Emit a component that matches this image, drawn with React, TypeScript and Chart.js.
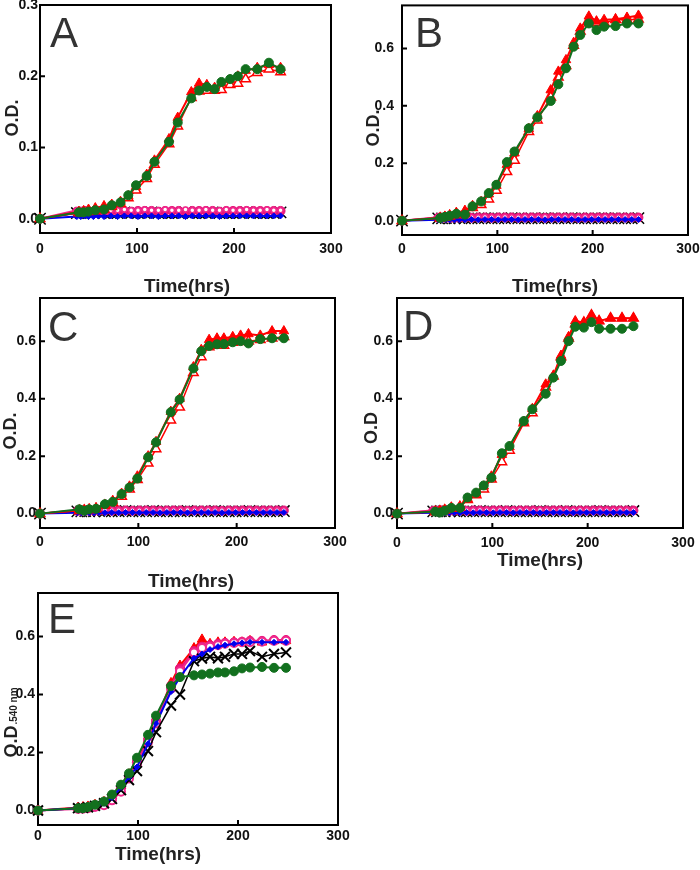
import React, { useEffect, useRef } from "react";
import { Chart, registerables } from "chart.js";

Chart.register(...registerables);

// ---------------- DATA ----------------
const times = [0, 40, 45, 50, 57, 66, 74, 83, 91, 99, 110, 118, 133, 142, 156, 164, 172, 180, 187, 196, 204, 212, 224, 236, 248];
const flatTimes = [0, 38, 42, 46, 50, 55, 60, 66, 73, 80, 87, 94, 101, 108, 115, 122, 129, 136, 143, 150, 157, 164, 171, 178, 185, 192, 199, 206, 213, 220, 227, 234, 241, 248];

const xTickValues = [0, 100, 200, 300];
const yTicksA = [0, 0.1, 0.2, 0.3];
const yTicksOther = [0, 0.2, 0.4, 0.6];

// controls (flat) shared by panels A-D
const flatCross = [0, 0.008, 0.008, 0.009, 0.008, 0.008, 0.009, 0.008, 0.008, 0.008, 0.009, 0.008, 0.008, 0.008, 0.009, 0.008, 0.008, 0.008, 0.008, 0.009, 0.008, 0.008, 0.008, 0.009, 0.008, 0.008, 0.008, 0.008, 0.009, 0.008, 0.008, 0.008, 0.008, 0.009];
const flatPink = [0, 0.010, 0.010, 0.011, 0.010, 0.010, 0.011, 0.011, 0.010, 0.011, 0.011, 0.010, 0.011, 0.011, 0.011, 0.010, 0.011, 0.011, 0.011, 0.010, 0.011, 0.011, 0.011, 0.011, 0.010, 0.011, 0.011, 0.011, 0.011, 0.011, 0.011, 0.011, 0.011, 0.011];
const flatMagenta = [0, 0.012, 0.012, 0.012, 0.013, 0.012, 0.012, 0.013, 0.012, 0.012, 0.013, 0.012, 0.012, 0.013, 0.012, 0.012, 0.013, 0.012, 0.012, 0.013, 0.012, 0.012, 0.013, 0.012, 0.012, 0.013, 0.012, 0.012, 0.013, 0.012, 0.012, 0.013, 0.012, 0.012];
const flatBlue = [0, 0.003, 0.003, 0.004, 0.003, 0.003, 0.004, 0.003, 0.004, 0.003, 0.004, 0.004, 0.003, 0.004, 0.004, 0.003, 0.004, 0.004, 0.004, 0.003, 0.004, 0.004, 0.004, 0.004, 0.003, 0.004, 0.004, 0.004, 0.004, 0.004, 0.004, 0.004, 0.004, 0.004];

// Panel A
const aGreen = [0, 0.009, 0.009, 0.010, 0.012, 0.013, 0.019, 0.023, 0.033, 0.047, 0.060, 0.080, 0.108, 0.135, 0.169, 0.180, 0.185, 0.182, 0.192, 0.196, 0.200, 0.210, 0.210, 0.219, 0.210];
const aRedFilled = [0, 0.010, 0.011, 0.013, 0.015, 0.018, 0.020, 0.024, 0.032, 0.045, 0.062, 0.082, 0.112, 0.142, 0.178, 0.190, 0.188, 0.184, 0.190, 0.195, 0.200, 0.208, 0.212, 0.216, 0.212];
const aRedOpen = [0, 0.008, 0.009, 0.010, 0.011, 0.013, 0.017, 0.021, 0.029, 0.040, 0.056, 0.076, 0.105, 0.130, 0.170, 0.179, 0.180, 0.180, 0.181, 0.188, 0.190, 0.196, 0.205, 0.210, 0.206];

// Panel B
const bGreen = [0, 0.009, 0.013, 0.017, 0.024, 0.021, 0.050, 0.067, 0.096, 0.125, 0.204, 0.241, 0.322, 0.360, 0.417, 0.475, 0.531, 0.606, 0.647, 0.687, 0.664, 0.676, 0.678, 0.687, 0.687];
const bRedFilled = [0, 0.010, 0.014, 0.020, 0.028, 0.035, 0.052, 0.066, 0.092, 0.122, 0.195, 0.235, 0.320, 0.365, 0.455, 0.520, 0.560, 0.620, 0.670, 0.712, 0.695, 0.700, 0.702, 0.708, 0.715];
const bRedOpen = [0, 0.008, 0.011, 0.015, 0.020, 0.025, 0.045, 0.055, 0.075, 0.105, 0.170, 0.210, 0.310, 0.350, 0.430, 0.500, 0.540, 0.610, 0.660, 0.700, 0.690, 0.690, 0.700, 0.700, 0.702];

// Panel C
const cGreen = [0, 0.015, 0.010, 0.015, 0.017, 0.033, 0.041, 0.068, 0.091, 0.122, 0.196, 0.248, 0.353, 0.397, 0.505, 0.565, 0.583, 0.589, 0.590, 0.596, 0.600, 0.592, 0.607, 0.610, 0.610];
const cRedFilled = [0, 0.012, 0.013, 0.016, 0.020, 0.030, 0.045, 0.070, 0.095, 0.130, 0.200, 0.250, 0.355, 0.400, 0.510, 0.570, 0.605, 0.610, 0.610, 0.615, 0.620, 0.625, 0.620, 0.635, 0.635];
const cRedOpen = [0, 0.010, 0.011, 0.013, 0.016, 0.028, 0.038, 0.060, 0.085, 0.118, 0.175, 0.225, 0.325, 0.370, 0.490, 0.545, 0.580, 0.585, 0.585, 0.595, 0.598, 0.600, 0.605, 0.610, 0.615];

// Panel D
const dGreen = [0, 0.007, 0.004, 0.010, 0.020, 0.020, 0.056, 0.073, 0.098, 0.125, 0.210, 0.235, 0.322, 0.363, 0.417, 0.473, 0.531, 0.600, 0.650, 0.647, 0.666, 0.643, 0.643, 0.643, 0.652];
const dRedFilled = [0, 0.008, 0.010, 0.014, 0.022, 0.026, 0.052, 0.070, 0.095, 0.130, 0.205, 0.232, 0.320, 0.365, 0.450, 0.480, 0.550, 0.615, 0.670, 0.665, 0.690, 0.670, 0.680, 0.680, 0.680];
const dRedOpen = [0, 0.006, 0.008, 0.012, 0.018, 0.022, 0.048, 0.065, 0.085, 0.120, 0.180, 0.220, 0.315, 0.350, 0.440, 0.478, 0.545, 0.610, 0.660, 0.665, 0.690, 0.670, 0.680, 0.680, 0.680];

// Panel E
const eGreen = [0, 0.008, 0.008, 0.012, 0.020, 0.031, 0.055, 0.089, 0.128, 0.182, 0.261, 0.327, 0.429, 0.460, 0.466, 0.469, 0.472, 0.476, 0.476, 0.480, 0.490, 0.493, 0.495, 0.492, 0.492];
const eRed = [0, 0.010, 0.012, 0.014, 0.020, 0.030, 0.050, 0.085, 0.125, 0.175, 0.245, 0.310, 0.440, 0.500, 0.560, 0.590, 0.575, 0.580, 0.580, 0.582, 0.580, 0.585, 0.580, 0.585, 0.585];
const eMagentaOpen = [0, 0.005, 0.006, 0.008, 0.012, 0.018, 0.035, 0.065, 0.110, 0.160, 0.235, 0.300, 0.420, 0.480, 0.545, 0.560, 0.565, 0.570, 0.575, 0.578, 0.580, 0.580, 0.582, 0.585, 0.585];
const ePinkFilled = [0, 0.008, 0.009, 0.011, 0.016, 0.025, 0.045, 0.080, 0.120, 0.170, 0.245, 0.310, 0.430, 0.490, 0.550, 0.565, 0.570, 0.575, 0.578, 0.580, 0.582, 0.585, 0.585, 0.588, 0.588];
const eBlue = [0, 0.008, 0.009, 0.011, 0.016, 0.025, 0.045, 0.080, 0.115, 0.150, 0.230, 0.300, 0.410, 0.460, 0.525, 0.540, 0.555, 0.565, 0.570, 0.575, 0.578, 0.580, 0.580, 0.580, 0.580];
const eCross = [0, 0.008, 0.009, 0.011, 0.016, 0.025, 0.040, 0.070, 0.105, 0.136, 0.205, 0.270, 0.362, 0.400, 0.515, 0.524, 0.530, 0.525, 0.530, 0.540, 0.540, 0.550, 0.530, 0.540, 0.545];

// ---------------- STYLES ----------------
const FONT = '"Liberation Sans", Arial, Helvetica, sans-serif';
const GREEN = { shape: "circle", r: 4.5, fill: "#12701e", stroke: "#12701e", line: "#12701e", lw: 2, bw: 1 };
const RED_FILLED = { shape: "triangle", r: 5.5, fill: "#ff0000", stroke: "#ff0000", line: "#ff0000", lw: 2, bw: 1 };
const RED_OPEN = { shape: "triangle", r: 5.5, fill: "#ffffff", stroke: "#ff0000", line: "#ff0000", lw: 1.5, bw: 1.5 };
const BLUE = { shape: "rectRot", r: 3, fill: "#0000ee", stroke: "#0000ee", line: "#0000ee", lw: 2, bw: 1 };
const MAGENTA_OPEN = { shape: "circle", r: 2.5, fill: "#ffffff", stroke: "#f0288c", line: "#f0288c", lw: 2, bw: 1.5 };
const MAGENTA_OPEN_E = { shape: "circle", r: 4, fill: "#ffffff", stroke: "#f0288c", line: "#f0288c", lw: 2, bw: 2 };
const PINK = { shape: "circle", r: 4.5, fill: "#e8157a", stroke: "#e8157a", line: "#e8157a", lw: 2, bw: 1 };
const CROSS = { shape: "crossRot", r: 8, fill: "#000000", stroke: "#000000", line: "#000000", lw: 1.5, bw: 1.5 };
const CROSS_E = { shape: "crossRot", r: 7, fill: "#000000", stroke: "#000000", line: "#000000", lw: 1.5, bw: 2 };

function ds(label: string, xs: number[], ys: number[], st: any) {
  return {
    label,
    data: xs.map((x, i) => ({ x, y: ys[i] })),
    borderColor: st.line,
    backgroundColor: st.fill,
    pointBorderColor: st.stroke,
    pointBackgroundColor: st.fill,
    pointStyle: st.shape,
    pointRadius: st.r,
    pointBorderWidth: st.bw,
    borderWidth: st.lw,
    tension: 0,
    clip: false,
    fill: false,
  };
}

function controls() {
  return [
    ds("blue", flatTimes, flatBlue, BLUE),
    ds("magenta", flatTimes, flatMagenta, MAGENTA_OPEN),
    ds("pink", flatTimes, flatPink, PINK),
    ds("cross", flatTimes, flatCross, CROSS),
  ];
}

const PAD_TOP = 16;
const PAD_RIGHT = 24;
const X_H = 70;
const TICK_SIZE = 14;

const panels = [
  {
    key: "A", plot: { l: 40, t: 5, r: 331, b: 233 }, yW: 40, yMin: -0.02, yMax: 0.3, yTicks: yTicksA,
    yPad: 2, xPad: 8, letter: { x: 50, y: 47 }, yTitle: "O.D.", yTitleSub: "", yTitlePos: { x: 13, y: 118 },
    xTitlePos: { x: 187, y: 287 },
    datasets: [ds("green", times, aGreen, GREEN), ds("redF", times, aRedFilled, RED_FILLED), ds("redO", times, aRedOpen, RED_OPEN), ...controls()],
  },
  {
    key: "B", plot: { l: 402, t: 5, r: 688, b: 235 }, yW: 42, yMin: -0.05, yMax: 0.75, yTicks: yTicksOther,
    yPad: 8, xPad: 6, letter: { x: 415, y: 47 }, yTitle: "O.D.", yTitleSub: "", yTitlePos: { x: 374, y: 128 },
    xTitlePos: { x: 555, y: 287 },
    datasets: [ds("green", times, bGreen, GREEN), ds("redF", times, bRedFilled, RED_FILLED), ds("redO", times, bRedOpen, RED_OPEN), ...controls()],
  },
  {
    key: "C", plot: { l: 40, t: 298, r: 335, b: 528 }, yW: 40, yMin: -0.05, yMax: 0.75, yTicks: yTicksOther,
    yPad: 4, xPad: 6, letter: { x: 48, y: 341 }, yTitle: "O.D.", yTitleSub: "", yTitlePos: { x: 11, y: 431 },
    xTitlePos: { x: 191, y: 582 },
    datasets: [ds("green", times, cGreen, GREEN), ds("redF", times, cRedFilled, RED_FILLED), ds("redO", times, cRedOpen, RED_OPEN), ...controls()],
  },
  {
    key: "D", plot: { l: 397, t: 298, r: 683, b: 528 }, yW: 40, yMin: -0.05, yMax: 0.75, yTicks: yTicksOther,
    yPad: 4, xPad: 7, letter: { x: 403, y: 340 }, yTitle: "O.D", yTitleSub: "", yTitlePos: { x: 372, y: 428 },
    xTitlePos: { x: 540, y: 561 },
    datasets: [ds("green", times, dGreen, GREEN), ds("redF", times, dRedFilled, RED_FILLED), ds("redO", times, dRedOpen, RED_OPEN), ...controls()],
  },
  {
    key: "E", plot: { l: 38, t: 593, r: 338, b: 825 }, yW: 38, yMin: -0.05, yMax: 0.75, yTicks: yTicksOther,
    yPad: 3, xPad: 3, letter: { x: 48, y: 633 }, yTitle: "O.D", yTitleSub: ".540 nm", yTitlePos: { x: 10, y: 723 },
    xTitlePos: { x: 158, y: 855 },
    datasets: [
      ds("green", times, eGreen, GREEN),
      ds("blue", times, eBlue, BLUE),
      ds("cross", times, eCross, CROSS_E),
      ds("magenta", times, eMagentaOpen, MAGENTA_OPEN_E),
      ds("pink", times, ePinkFilled, PINK),
      ds("red", times, eRed, RED_FILLED),
    ],
  },
];

const decor = {
  id: "decor",
  beforeDatasetsDraw(chart: any, _args: any, o: any) {
    const { ctx, chartArea: ca } = chart;
    ctx.save();
    ctx.strokeStyle = "#000";
    ctx.lineWidth = 2;
    ctx.strokeRect(ca.left, ca.top, ca.right - ca.left, ca.bottom - ca.top);
    const xs = chart.scales.x;
    const ys = chart.scales.y;
    ctx.beginPath();
    xs.ticks.forEach((t: any) => {
      const px = xs.getPixelForValue(t.value);
      ctx.moveTo(px, ca.bottom);
      ctx.lineTo(px, ca.bottom - 5);
    });
    ys.ticks.forEach((t: any) => {
      const py = ys.getPixelForValue(t.value);
      ctx.moveTo(ca.left, py);
      ctx.lineTo(ca.left + 5, py);
    });
    ctx.stroke();
    // panel letter
    ctx.fillStyle = "#333";
    ctx.font = `42px ${FONT}`;
    ctx.textAlign = "left";
    ctx.textBaseline = "alphabetic";
    ctx.fillText(o.letter, o.letterX - o.ox, o.letterY - o.oy);
    ctx.restore();
  },
  afterDraw(chart: any, _args: any, o: any) {
    const { ctx } = chart;
    ctx.save();
    ctx.fillStyle = "#222";
    // x title
    ctx.font = `bold 19px ${FONT}`;
    ctx.textAlign = "center";
    ctx.textBaseline = "middle";
    ctx.fillText(o.xTitle, o.xTitleX - o.ox, o.xTitleY - o.oy);
    // y title
    ctx.translate(o.yTitleX - o.ox, o.yTitleY - o.oy);
    ctx.rotate(-Math.PI / 2);
    if (!o.yTitleSub) {
      ctx.font = `bold 18px ${FONT}`;
      ctx.fillText(o.yTitle, 0, 0);
    } else {
      ctx.font = `bold 18px ${FONT}`;
      const w1 = ctx.measureText(o.yTitle).width;
      ctx.font = `bold 10px ${FONT}`;
      const w2 = ctx.measureText(o.yTitleSub).width;
      const start = -(w1 + w2) / 2;
      ctx.textAlign = "left";
      ctx.textBaseline = "alphabetic";
      ctx.font = `bold 18px ${FONT}`;
      ctx.fillText(o.yTitle, start, 6.5);
      ctx.font = `bold 10px ${FONT}`;
      ctx.fillText(o.yTitleSub, start + w1 + 1, 7);
    }
    ctx.restore();
  },
};

function Panel({ p }: { p: any }) {
  const ref = useRef<HTMLCanvasElement | null>(null);
  const yW = p.yW;
  const left = p.plot.l - yW;
  const top = p.plot.t - PAD_TOP;
  const width = yW + (p.plot.r - p.plot.l) + PAD_RIGHT;
  const height = PAD_TOP + (p.plot.b - p.plot.t) + X_H;

  useEffect(() => {
    if (!ref.current) return;
    const tickFont = { family: FONT, size: TICK_SIZE, weight: "bold" as const };
    const chart = new Chart(ref.current, {
      type: "line",
      data: { datasets: p.datasets as any },
      plugins: [decor as any],
      options: {
        animation: false,
        responsive: false,
        devicePixelRatio: 1,
        events: [],
        layout: { padding: { top: PAD_TOP, right: PAD_RIGHT, left: 0, bottom: 0 } },
        plugins: {
          legend: { display: false },
          tooltip: { enabled: false },
          decor: {
            ox: left, oy: top, letter: p.key, letterX: p.letter.x, letterY: p.letter.y,
            yTitle: p.yTitle, yTitleSub: p.yTitleSub, yTitleX: p.yTitlePos.x, yTitleY: p.yTitlePos.y,
            xTitle: "Time(hrs)", xTitleX: p.xTitlePos.x, xTitleY: p.xTitlePos.y,
          },
        } as any,
        scales: {
          x: {
            type: "linear",
            min: 0,
            max: 300,
            grid: { display: false, drawTicks: false },
            border: { display: false },
            afterBuildTicks: (s: any) => { s.ticks = xTickValues.map((v) => ({ value: v })); },
            afterFit: (s: any) => { s.height = X_H; },
            ticks: { padding: p.xPad, color: "#111", font: tickFont, callback: (v: any) => String(v), maxRotation: 0 },
          },
          y: {
            type: "linear",
            min: p.yMin,
            max: p.yMax,
            grid: { display: false, drawTicks: false },
            border: { display: false },
            afterBuildTicks: (s: any) => { s.ticks = p.yTicks.map((v: number) => ({ value: v })); },
            afterFit: (s: any) => { s.width = yW; },
            ticks: { padding: p.yPad, color: "#111", font: tickFont, callback: (v: any) => Number(v).toFixed(1) },
          },
        },
      } as any,
    });
    return () => chart.destroy();
  }, []);

  return (
    <canvas
      ref={ref}
      width={width}
      height={height}
      style={{ position: "absolute", left, top, width, height }}
    />
  );
}

export default function App() {
  return (
    <div style={{ position: "fixed", left: 0, top: 0, width: 700, height: 870, overflow: "hidden", background: "#fff" }}>
      {panels.map((p) => (
        <Panel key={p.key} p={p} />
      ))}
    </div>
  );
}
